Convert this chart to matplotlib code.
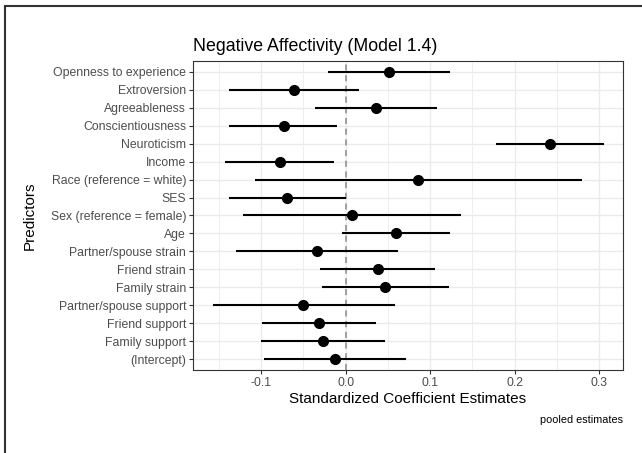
import matplotlib
matplotlib.use("Agg")
import matplotlib.pyplot as plt
from matplotlib.lines import Line2D
import numpy as np

plt.rcParams['font.family'] = ['Liberation Sans', 'DejaVu Sans']

predictors = ["Openness to experience", "Extroversion", "Agreeableness",
              "Conscientiousness", "Neuroticism", "Income",
              "Race (reference = white)", "SES", "Sex (reference = female)",
              "Age", "Partner/spouse strain", "Friend strain", "Family strain",
              "Partner/spouse support", "Friend support", "Family support",
              "(Intercept)"]
estimate = [0.051, -0.061, 0.036, -0.073, 0.242, -0.078, 0.086, -0.069,
            0.008, 0.060, -0.034, 0.038, 0.047, -0.050, -0.032, -0.027, -0.013]
ci_low = [-0.021, -0.138, -0.036, -0.138, 0.178, -0.143, -0.107, -0.138,
          -0.121, -0.004, -0.130, -0.030, -0.028, -0.157, -0.099, -0.100, -0.096]
ci_high = [0.123, 0.016, 0.108, -0.010, 0.306, -0.014, 0.279, 0.001,
           0.137, 0.123, 0.062, 0.106, 0.122, 0.059, 0.036, 0.047, 0.071]
xticks = [-0.1, 0.0, 0.1, 0.2, 0.3]
xticklabels = ["-0.1", "0.0", "0.1", "0.2", "0.3"]

W, H = 642, 453
fig = plt.figure(figsize=(W / 100, H / 100), dpi=100)
left, right, top, bottom = 193, 623, 61, 370
ax = fig.add_axes([left / W, 1 - bottom / H, (right - left) / W, (bottom - top) / H])

n = len(predictors)
y = np.arange(n)[::-1] + 1

ax.axvline(0, color="#8a8a8a", linestyle=(0, (4, 3)), linewidth=1.1, zorder=2)
ax.hlines(y, ci_low, ci_high, color="black", linewidth=1.5, zorder=3)
ax.plot(estimate, y, "o", color="black", markersize=7, zorder=4)

ax.set_xlim(-0.1804, 0.328)
ax.set_ylim(0.4, n + 0.6)
ax.set_xticks(xticks)
ax.set_xticklabels(xticklabels)
ax.set_xticks([-0.15, -0.05, 0.05, 0.15, 0.25], minor=True)
ax.set_yticks(y)
ax.set_yticklabels(predictors)

ax.grid(which="major", color="#EBEBEB", linewidth=1.0, zorder=0)
ax.grid(which="minor", axis="x", color="#EBEBEB", linewidth=0.6, zorder=0)
ax.set_axisbelow(True)
ax.tick_params(axis="both", which="major", length=3, width=0.8, color="#333333",
               labelcolor="#4d4d4d", labelsize=8.8, pad=2)
ax.tick_params(axis="both", which="minor", length=0)
for s in ax.spines.values():
    s.set_color("#333333")
    s.set_linewidth(0.8)

ax.set_xlabel("Standardized Coefficient Estimates", fontsize=11, labelpad=2)
ax.set_ylabel("Predictors", fontsize=11)
ax.yaxis.set_label_coords((37 - left) / (right - left), 0.5)
ax.set_title("Negative Affectivity (Model 1.4)", fontsize=12.8, loc="left", pad=7)

fig.text(right / W, 1 - 420 / H, "pooled estimates", ha="right", va="center",
         fontsize=7.8, color="black")

fig.add_artist(Line2D([5.5 / W, 5.5 / W], [0, 1 - 5.5 / H], transform=fig.transFigure,
                      color="#333333", linewidth=1.5))
fig.add_artist(Line2D([5.5 / W, 1], [1 - 5.5 / H, 1 - 5.5 / H], transform=fig.transFigure,
                      color="#333333", linewidth=1.5))

fig.savefig("out.png", dpi=100)
